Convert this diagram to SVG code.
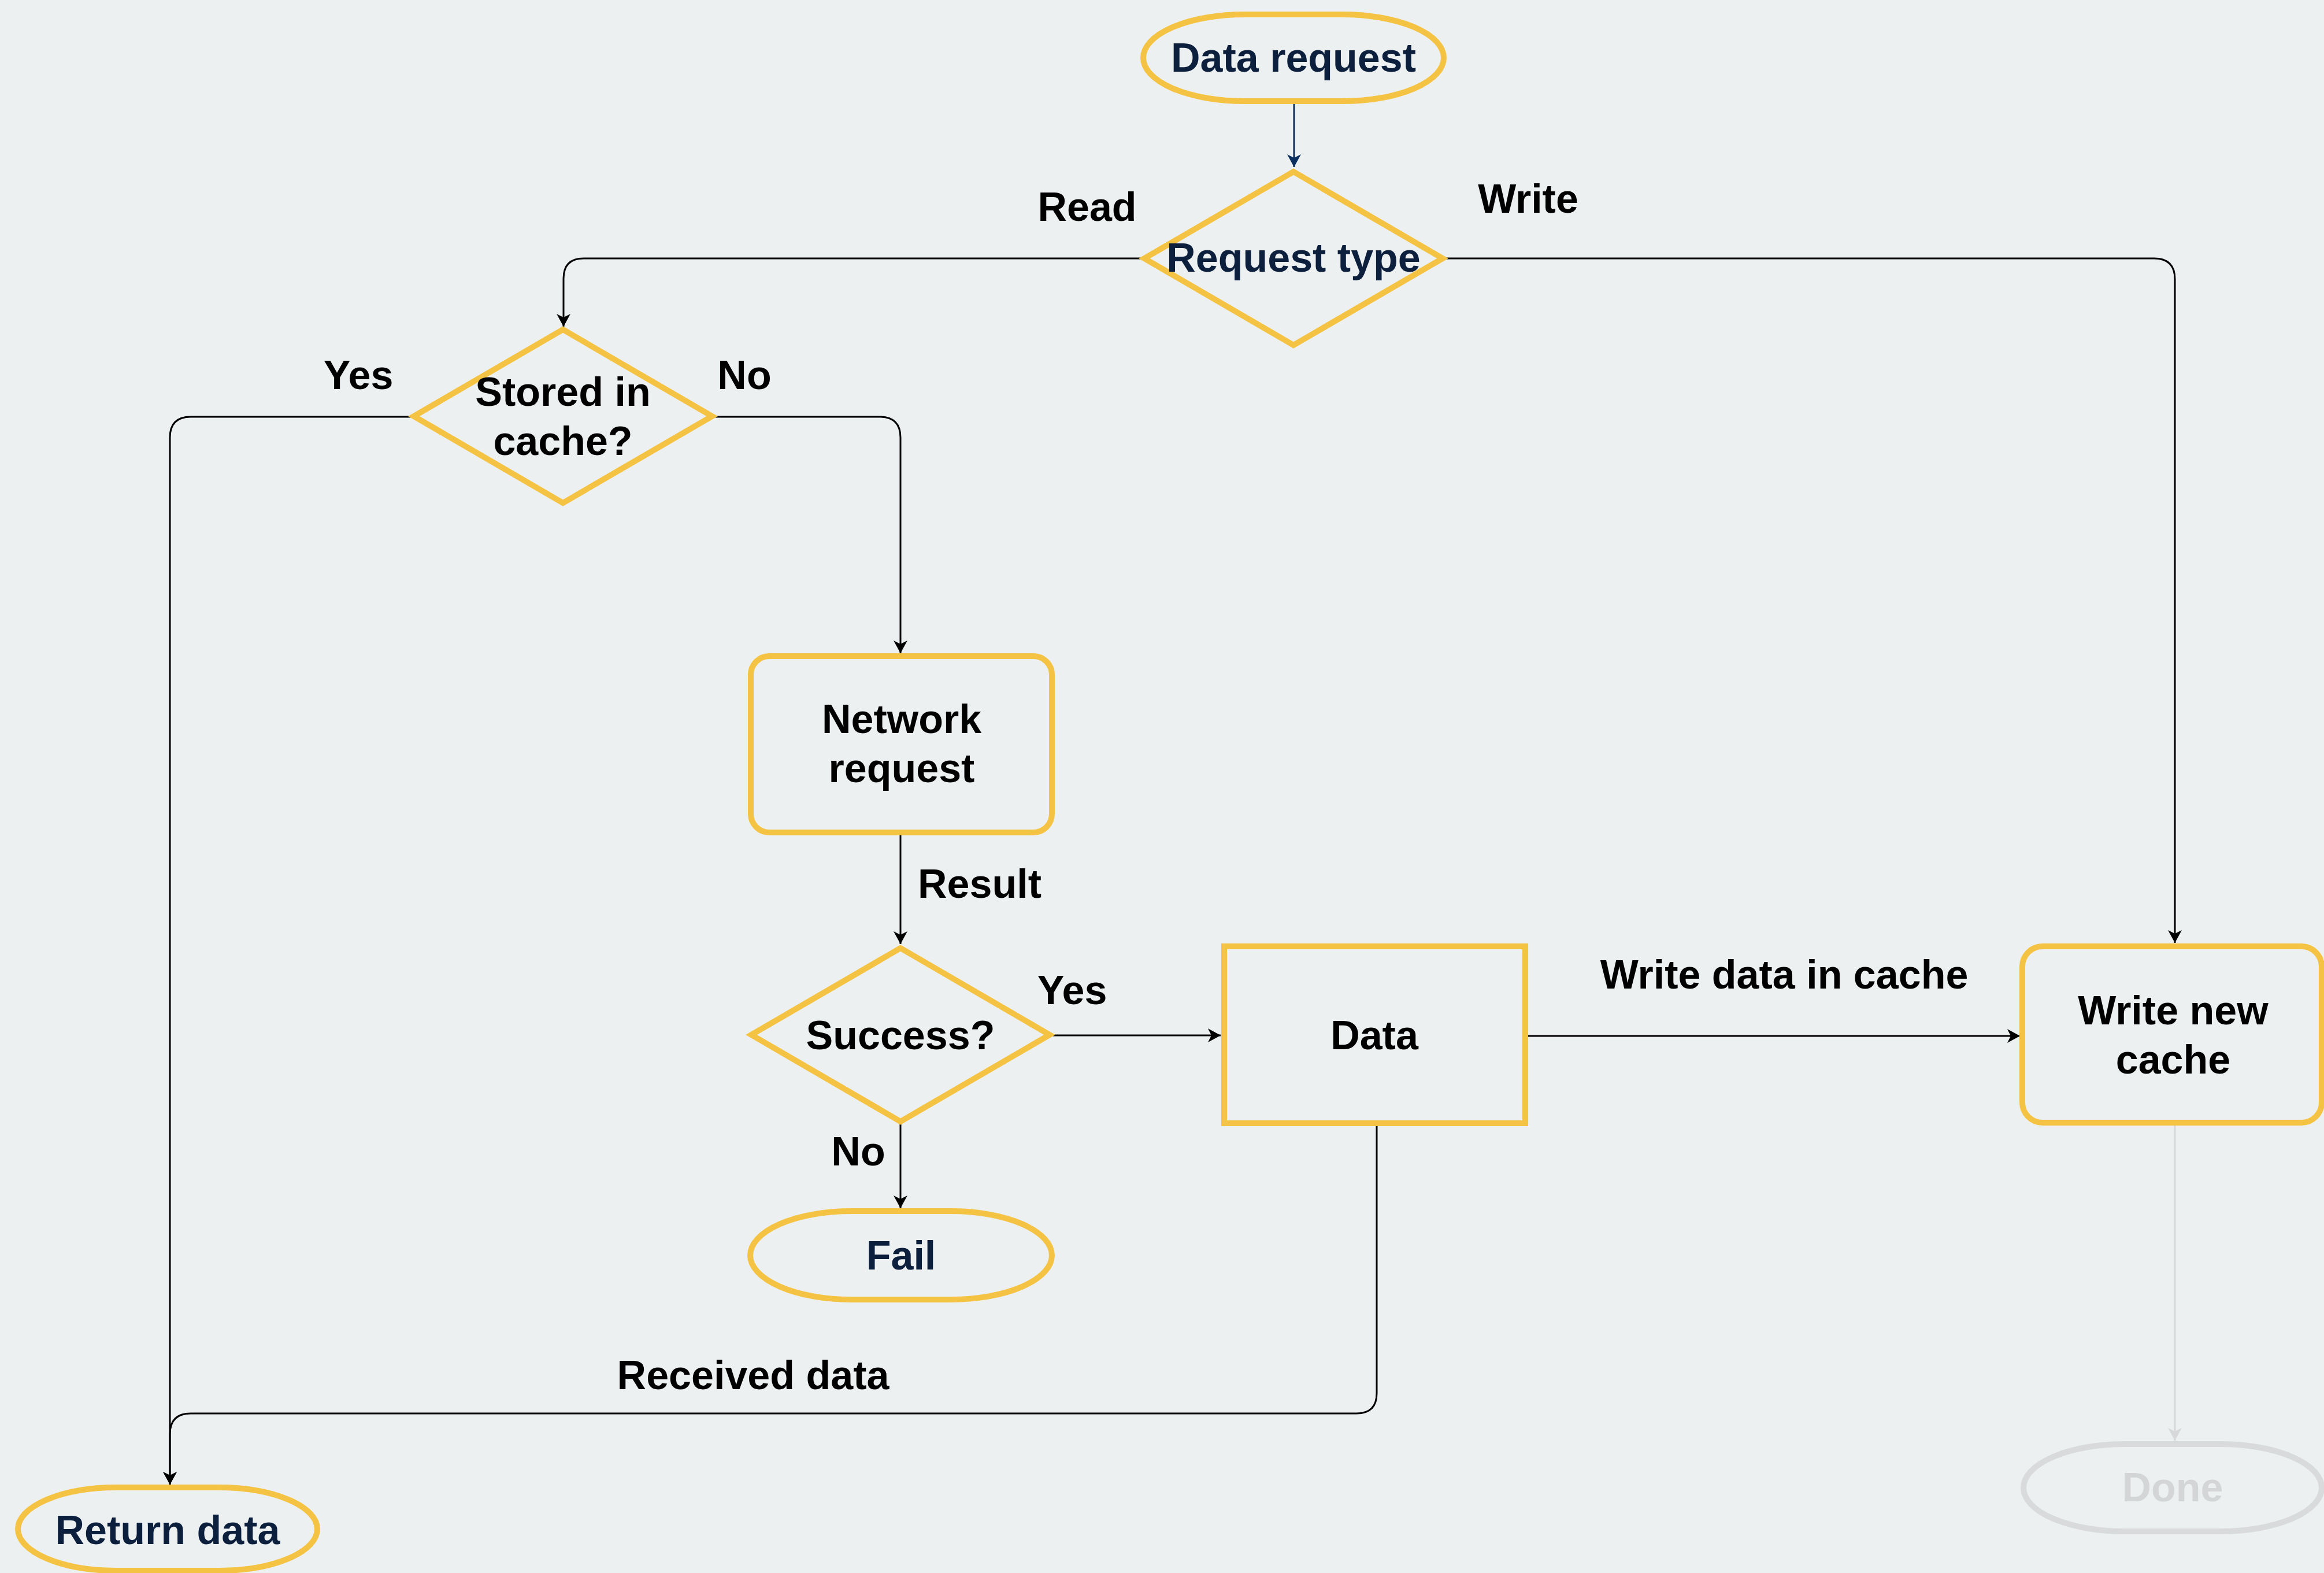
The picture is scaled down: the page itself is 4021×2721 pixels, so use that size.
<svg xmlns="http://www.w3.org/2000/svg" width="4021" height="2721" viewBox="0 0 4021 2721">
  <style>
    .node { fill: #ECF0F1; stroke: #F5C343; stroke-width: 10; }
    .done { fill: #ECF0F1; stroke: #D8DADB; stroke-width: 10; }
    .t { font-family: "Liberation Sans", Arial, Helvetica, sans-serif; font-weight: bold; font-size: 70px; text-anchor: middle; fill: #000; }
    .nav { fill: #0C1F3D; }
    .gray { fill: #D3D5D6; }
    .edge { fill: none; stroke: #000; stroke-width: 3; }
    .edge-navy { fill: none; stroke: #0B2F5E; stroke-width: 3; }
    .edge-gray { fill: none; stroke: #D6D8D9; stroke-width: 3; }
  </style>
  <defs>
    <marker id="arr" viewBox="-24 -15 26 30" refX="0" refY="0" markerWidth="26" markerHeight="30" markerUnits="userSpaceOnUse" orient="auto">
      <path d="M-22,-12 L0,0 L-22,12 L-16,0 Z" fill="#000"/>
    </marker>
    <marker id="arrNavy" viewBox="-24 -15 26 30" refX="0" refY="0" markerWidth="26" markerHeight="30" markerUnits="userSpaceOnUse" orient="auto">
      <path d="M-22,-12 L0,0 L-22,12 L-16,0 Z" fill="#0B2F5E"/>
    </marker>
    <marker id="arrGray" viewBox="-24 -15 26 30" refX="0" refY="0" markerWidth="26" markerHeight="30" markerUnits="userSpaceOnUse" orient="auto">
      <path d="M-22,-12 L0,0 L-22,12 L-16,0 Z" fill="#D6D8D9"/>
    </marker>
  </defs>
  <rect width="4021" height="2721" fill="#ECF0F1"/>

  <g id="connectors">
    <path class="edge-navy" d="M2239,176 V289" marker-end="url(#arrNavy)"/>
    <path class="edge" d="M1975,447 H1010 Q975,447 975,482 V565" marker-end="url(#arr)"/>
    <path class="edge" d="M2501,447 H3727 Q3763,447 3763,483 V1631" marker-end="url(#arr)"/>
    <path class="edge" d="M710,721 H330 Q294,721 294,757 V2568" marker-end="url(#arr)"/>
    <path class="edge" d="M1238,721 H1522 Q1558,721 1558,757 V1130" marker-end="url(#arr)"/>
    <path class="edge" d="M1558,1445 V1633" marker-end="url(#arr)"/>
    <path class="edge" d="M1822,1791 H2112" marker-end="url(#arr)"/>
    <path class="edge" d="M1558,1945 V2090" marker-end="url(#arr)"/>
    <path class="edge" d="M2644,1792 H3495" marker-end="url(#arr)"/>
    <path class="edge" d="M2382,1948 V2410 Q2382,2445 2347,2445 H330 Q294,2445 294,2481 V2568" marker-end="url(#arr)"/>
    <path class="edge-gray" d="M3763,1947 V2492" marker-end="url(#arrGray)"/>
    <text class="t" x="1881" y="382">Read</text>
    <text class="t" x="2644" y="368">Write</text>
    <text class="t" x="620" y="673">Yes</text>
    <text class="t" x="1288" y="673">No</text>
    <text class="t" x="1695" y="1553">Result</text>
    <text class="t" x="1855" y="1737">Yes</text>
    <text class="t" x="1485" y="2016">No</text>
    <text class="t" x="3087" y="1710">Write data in cache</text>
    <text class="t" x="1303" y="2403">Received data</text>
  </g>

  <g id="data-request">
    <rect class="node" x="1978" y="25" width="520" height="150" rx="175" ry="75"/>
    <text class="t nav" x="2238" y="124">Data request</text>
  </g>
  <g id="request-type">
    <polygon class="node" points="2238,297 2496,447 2238,597 1980,447"/>
    <text class="t nav" x="2238" y="470">Request type</text>
  </g>
  <g id="stored-in-cache">
    <polygon class="node" points="974,570 1232,720 974,870 716,720"/>
    <text class="t" x="974" y="702">Stored in</text>
    <text class="t" x="974" y="787">cache?</text>
  </g>
  <g id="network-request">
    <rect class="node" x="1299" y="1135" width="521" height="305" rx="32" ry="32"/>
    <text class="t" x="1560" y="1268">Network</text>
    <text class="t" x="1560" y="1353">request</text>
  </g>
  <g id="success">
    <polygon class="node" points="1558,1640 1816,1790 1558,1940 1300,1790"/>
    <text class="t" x="1558" y="1815">Success?</text>
  </g>
  <g id="fail">
    <rect class="node" x="1298" y="2095" width="522" height="153" rx="175" ry="76.5"/>
    <text class="t nav" x="1559" y="2196">Fail</text>
  </g>
  <g id="data">
    <rect class="node" x="2118" y="1637" width="521" height="306"/>
    <text class="t" x="2378" y="1815">Data</text>
  </g>
  <g id="write-new-cache">
    <rect class="node" x="3499" y="1637" width="518" height="305" rx="35" ry="35"/>
    <text class="t" x="3760" y="1772">Write new</text>
    <text class="t" x="3760" y="1857">cache</text>
  </g>
  <g id="done">
    <rect class="done" x="3501" y="2498" width="516" height="151" rx="175" ry="75.5"/>
    <text class="t gray" x="3759" y="2597">Done</text>
  </g>
  <g id="return-data">
    <rect class="node" x="31" y="2573" width="518" height="144" rx="170" ry="72"/>
    <text class="t nav" x="290" y="2671">Return data</text>
  </g>
</svg>
